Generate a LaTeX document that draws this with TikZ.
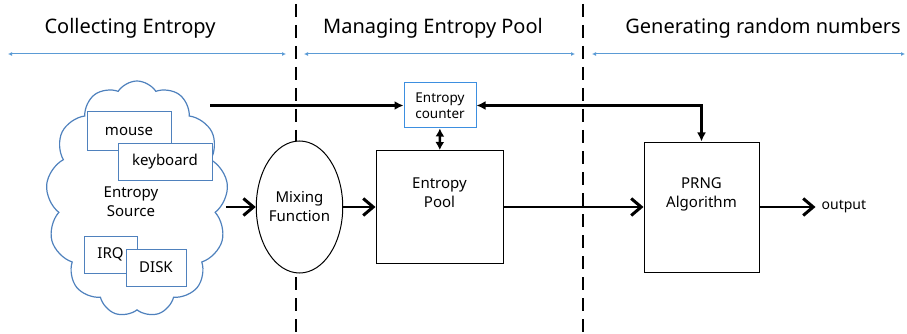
\documentclass[tikz,border=0pt]{standalone}
\usepackage{fontspec}
\setmainfont{Noto Sans}
\usetikzlibrary{arrows.meta,shapes.geometric,shapes.symbols,positioning}

\definecolor{srcblue}{HTML}{4F81BD}
\definecolor{cntblue}{HTML}{3D8FE0}
\definecolor{phaseblue}{HTML}{5B9BD5}

\begin{document}
\begin{tikzpicture}[
    x=1pt, y=-1pt,
    src/.style={rectangle, draw=srcblue, fill=white, line width=1pt, inner sep=0pt, font=\fontsize{15}{18}\selectfont},
    block/.style={rectangle, draw, fill=white, line width=1pt, inner sep=0pt, align=center, font=\fontsize{15}{19}\selectfont},
    flow/.style={-{Straight Barb[length=10pt,width=17pt,line width=3pt]}, line width=2.8pt},
    feed/.style={line width=2.8pt, -{Latex[length=9pt,width=9pt]}},
    pair/.style={{Latex[length=8pt,width=9pt]}-{Latex[length=8pt,width=9pt]}, line width=2.6pt},
    phase/.style={{Latex[length=4pt,width=4pt]}-{Latex[length=4pt,width=4pt]}, draw=phaseblue, line width=1pt},
    divider/.style={dash pattern=on 13pt off 8pt, line width=2.6pt},
    heading/.style={font=\fontsize{20}{24}\selectfont}
]
    \useasboundingbox (0,0) rectangle (907,334);

    % stage headings and their spans
    \node[heading] (collect) at (130,28) {Collecting Entropy};
    \node[heading] (manage) at (433,28) {Managing Entropy Pool};
    \node[heading] (generate) at (763,28) {Generating random numbers};
    \foreach \a/\b in {8/286, 304/575, 592/905}
        \draw[phase] (\a,54) -- (\b,54);
    \foreach \x in {296,583}
        \draw[divider] (\x,4) -- (\x,334);

    % entropy sources
    \node[cloud, cloud puffs=13, cloud puff arc=115, draw=srcblue, line width=1.2pt,
          minimum width=182pt, minimum height=236pt, inner sep=0pt] (src) at (137,199) {};
    \node[font=\fontsize{15}{19}\selectfont, align=center] (srclabel) at (131,202) {Entropy\\Source};
    \node[src, minimum width=84pt, minimum height=38pt] (mouse) at (129,131) {mouse};
    \node[src, minimum width=94pt, minimum height=37pt] (keyb) at (165,161.5) {keyboard};
    \node[src, minimum width=53pt, minimum height=37pt] (irq) at (110.5,254.5) {IRQ};
    \node[src, minimum width=60pt, minimum height=37pt] (disk) at (156,267.5) {DISK};
    \coordinate (srctop) at (210,105.5);

    % pool management
    \node[ellipse, draw, fill=white, line width=1pt, inner sep=0pt, align=center,
          minimum width=75pt, minimum height=132pt, font=\fontsize{15}{19}\selectfont] (mix) at (299.5,207) {Mixing\\Function};
    \node[block, minimum width=127pt, minimum height=113pt] (pool) at (439.5,207) {Entropy\\Pool\\[10pt]};
    \node[block, draw=cntblue, minimum width=72pt, minimum height=45pt,
          font=\fontsize{13.5}{16}\selectfont] (counter) at (440,105.5) {Entropy\\counter};

    % generator
    \node[block, minimum width=115pt, minimum height=130pt] (prng) at (701.5,207) {PRNG\\Algorithm\\[10pt]};
    \node[right=56pt of prng, inner sep=6pt, font=\fontsize{14}{16}\selectfont] (out) {output};

    % connections
    \draw[flow] (mix.west -| src.east) -- (mix.west);
    \draw[flow] (mix) -- (pool);
    \draw[flow] (pool) -- (prng);
    \draw[flow] (prng) -- (out);
    \draw[feed] (srctop) -- (srctop -| counter.west);
    \draw[feed, {Latex[length=9pt,width=9pt]}-{Latex[length=9pt,width=9pt]}] (counter.east) -| (prng.north);
    \draw[pair] (counter) -- (pool);
\end{tikzpicture}
\end{document}
